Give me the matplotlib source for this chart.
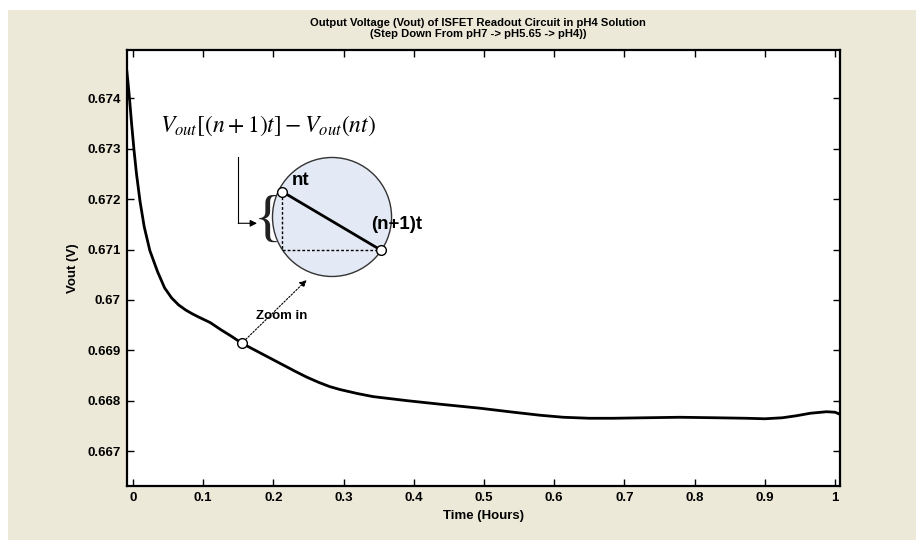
import matplotlib
matplotlib.use('Agg')
import matplotlib.pyplot as plt
from matplotlib.patches import Ellipse, Rectangle

plt.rcParams['font.family'] = ['Liberation Sans', 'DejaVu Sans']
plt.rcParams['mathtext.fontset'] = 'stix'

# Vout over time
time_h = [-0.009, -0.007, -0.005, -0.002, 0.0014, 0.005, 0.010, 0.016, 0.024,
          0.035, 0.045, 0.055, 0.065, 0.075, 0.085, 0.095, 0.11, 0.125, 0.14,
          0.155, 0.17, 0.185, 0.20, 0.215, 0.23, 0.247, 0.265, 0.28, 0.295,
          0.32, 0.342, 0.39, 0.437, 0.494, 0.542, 0.58, 0.613, 0.65, 0.684,
          0.73, 0.779, 0.83, 0.874, 0.90, 0.925, 0.945, 0.965, 0.988, 1.0, 1.007]
vout = [0.67457, 0.67430, 0.67400, 0.67350, 0.67298, 0.67250, 0.67196,
        0.67145, 0.67098, 0.67056, 0.67024, 0.67004, 0.66990, 0.66980,
        0.66972, 0.66965, 0.66955, 0.66941, 0.66928, 0.66914, 0.66903,
        0.66892, 0.66881, 0.66870, 0.66859, 0.66847, 0.66836, 0.66828,
        0.66822, 0.66814, 0.66808, 0.66800, 0.66793, 0.66785, 0.66777,
        0.66771, 0.66767, 0.66765, 0.66765, 0.66766, 0.66767, 0.66766,
        0.66765, 0.66764, 0.66766, 0.66770, 0.66775, 0.66778, 0.66777, 0.66773]

xticks = [0, 0.1, 0.2, 0.3, 0.4, 0.5, 0.6, 0.7, 0.8, 0.9, 1]
xticklabels = ['0', '0.1', '0.2', '0.3', '0.4', '0.5', '0.6', '0.7', '0.8', '0.9', '1']
yticks = [0.667, 0.668, 0.669, 0.670, 0.671, 0.672, 0.673, 0.674]
yticklabels = ['0.667', '0.668', '0.669', '0.67', '0.671', '0.672', '0.673', '0.674']

# zoom-in sketch points
zoom_pt = (0.155, 0.66914)
nt_pt = (0.2127, 0.672149)
n1t_pt = (0.3528, 0.670992)

fig = plt.figure(figsize=(9.16, 5.4), dpi=100, facecolor='white')
fig.patches.append(Rectangle((8 / 916, 0), 1, 530 / 540, transform=fig.transFigure,
                             facecolor='#ECE9D8', edgecolor='none', zorder=-10))

ax = fig.add_axes([126.5 / 916, 54 / 540, 713.5 / 916, 436 / 540])
ax.set_facecolor('white')

ax.plot(time_h, vout, color='black', lw=2.0, zorder=3)

ax.set_xlim(-0.00926, 1.0071)
ax.set_ylim(0.666305, 0.674963)
ax.set_xticks(xticks)
ax.set_xticklabels(xticklabels)
ax.set_yticks(yticks)
ax.set_yticklabels(yticklabels)
ax.tick_params(direction='in', length=5, width=1, top=True, right=True,
               labelsize=9.5, pad=4)
for lab in ax.get_xticklabels() + ax.get_yticklabels():
    lab.set_fontweight('bold')
for s in ax.spines.values():
    s.set_linewidth(1.6)

ax.set_xlabel('Time (Hours)', fontsize=9.5, fontweight='bold', labelpad=5)
ax.set_ylabel('Vout (V)', fontsize=9.5, fontweight='bold', labelpad=6)

fig.text(478 / 916, 1 - 23 / 540, 'Output Voltage (Vout) of ISFET Readout Circuit in pH4 Solution',
         ha='center', va='center', fontsize=8.1, fontweight='bold')
fig.text(478 / 916, 1 - 34 / 540, '(Step Down From pH7 -> pH5.65 -> pH4))',
         ha='center', va='center', fontsize=8.1, fontweight='bold')

# magnifier circle
ax.add_patch(Ellipse((0.2835, 0.671647), 2 * 0.0848, 2 * 0.0011815,
                     facecolor='#E4EAF5', edgecolor='#333333', lw=1, zorder=4))
ax.plot([nt_pt[0], nt_pt[0], n1t_pt[0]], [nt_pt[1], n1t_pt[1], n1t_pt[1]],
        color='black', lw=1, ls=(0, (2, 1.5)), zorder=5)
ax.plot([nt_pt[0], n1t_pt[0]], [nt_pt[1], n1t_pt[1]], color='black', lw=2, zorder=5)
ax.plot([nt_pt[0], n1t_pt[0]], [nt_pt[1], n1t_pt[1]], 'o', ms=7, mfc='white',
        mec='black', mew=1, zorder=6)
ax.text(0.2393, 0.672362, 'nt', fontsize=13.5, fontweight='bold', ha='center',
        va='center', zorder=7)
ax.text(0.376, 0.671488, '(n+1)t', fontsize=13.5, fontweight='bold', ha='center',
        va='center', zorder=7)
ax.text(0.192, 0.67155, '{', fontsize=42, family='Liberation Serif', ha='center',
        va='center', color='#222222', zorder=5)

# formula and bent arrow
ax.text(0.0385, 0.673454, r'$V_{out}\left[\left(n+1\right)t\right]-V_{out}\left(nt\right)$',
        fontsize=17, ha='left', va='center', zorder=5)
ax.plot([0.150, 0.150], [0.672844, 0.671522], color='black', lw=0.8)
ax.annotate('', xy=(0.1766, 0.671522), xytext=(0.150, 0.671522),
            arrowprops=dict(arrowstyle='-|>', color='black', lw=0.8,
                            mutation_scale=10, shrinkA=0, shrinkB=0))

# zoom in arrow
ax.annotate('', xy=(0.2474, 0.670396), xytext=zoom_pt,
            arrowprops=dict(arrowstyle='-|>', color='black', lw=0.8, ls=(0, (1.5, 1.5)),
                            mutation_scale=10, shrinkA=4, shrinkB=0), zorder=5)
ax.plot([zoom_pt[0]], [zoom_pt[1]], 'o', ms=7, mfc='white', mec='black', mew=1, zorder=6)
ax.text(0.2115, 0.669681, 'Zoom in', fontsize=9.5, fontweight='bold', ha='center',
        va='center', zorder=7)

fig.savefig('out.png', dpi=100, facecolor=fig.get_facecolor())
